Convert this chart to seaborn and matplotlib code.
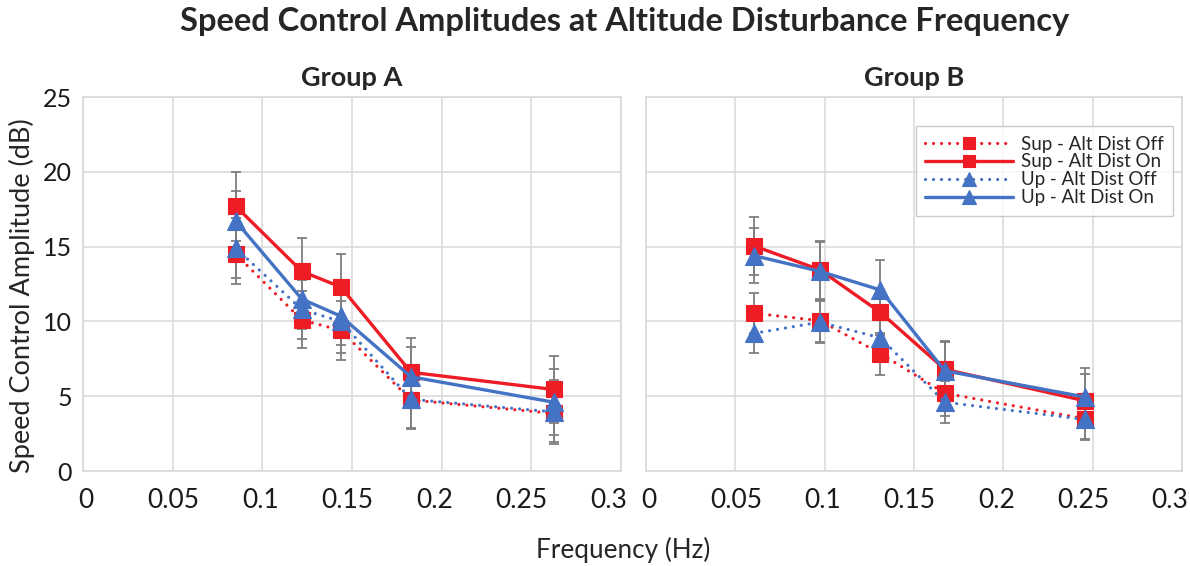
import matplotlib
matplotlib.use("Agg")
import matplotlib.pyplot as plt
import matplotlib.transforms as mtransforms
import seaborn as sns
import numpy as np

# ---------------- data ----------------
freq_a = [0.0852, 0.122, 0.1438, 0.1829, 0.2625]
freq_b = [0.0603, 0.0973, 0.1312, 0.1672, 0.2455]

series_names = ["Sup - Alt Dist Off", "Sup - Alt Dist On", "Up - Alt Dist Off", "Up - Alt Dist On"]

# Group A values
a_sup_off = [14.5, 10.1, 9.4, 4.75, 3.85]
a_sup_on = [17.7, 13.35, 12.3, 6.6, 5.45]
a_up_off = [14.9, 10.8, 10.0, 4.8, 3.95]
a_up_on = [16.7, 11.5, 10.35, 6.3, 4.6]
# Group A error (+/-)
a_sup_off_err = [2.0, 1.9, 1.95, 1.9, 1.9]
a_sup_on_err = [2.3, 2.2, 2.2, 2.3, 2.25]
a_up_off_err = [2.0, 1.95, 2.1, 2.0, 2.15]
a_up_on_err = [2.0, 2.0, 1.9, 2.0, 2.2]

# Group B values
b_sup_off = [10.55, 10.05, 7.85, 5.2, 3.5]
b_sup_on = [15.05, 13.45, 10.6, 6.8, 4.7]
b_up_off = [9.2, 9.95, 8.9, 4.6, 3.45]
b_up_on = [14.4, 13.35, 12.1, 6.7, 4.95]
# Group B error (+/-)
b_sup_off_err = [1.35, 1.4, 1.4, 1.5, 1.4]
b_sup_on_err = [1.95, 1.95, 1.5, 1.9, 1.8]
b_up_off_err = [1.3, 1.4, 1.5, 1.4, 1.3]
b_up_on_err = [1.85, 1.95, 2.0, 1.9, 1.95]

x_ticks = [0, 0.05, 0.1, 0.15, 0.2, 0.25, 0.3]
x_tick_labels = ["0", "0.05", "0.1", "0.15", "0.2", "0.25", "0.3"]
y_ticks = [0, 5, 10, 15, 20, 25]
y_tick_labels = ["0", "5", "10", "15", "20", "25"]

title = "Speed Control Amplitudes at Altitude Disturbance Frequency"
panel_titles = ["Group A", "Group B"]
x_label = "Frequency (Hz)"
y_label = "Speed Control Amplitude (dB)"

# ---------------- style ----------------
sns.set_theme(style="white")
plt.rcParams["font.family"] = ["Lato", "DejaVu Sans"]

RED = "#ee1c25"
BLUE = "#4472c4"
GRID = "#d9d9d9"
ERR = "#7f7f7f"

styles = [
    dict(color=RED, marker="s", dotted=True),
    dict(color=RED, marker="s", dotted=False),
    dict(color=BLUE, marker="^", dotted=True),
    dict(color=BLUE, marker="^", dotted=False),
]

fig = plt.figure(figsize=(11.9, 5.66), dpi=100)
ax_a = fig.add_axes([0.0697, 0.1678, 0.4521, 0.6608])
ax_b = fig.add_axes([0.5429, 0.1678, 0.4504, 0.6608])

groups = [
    (ax_a, freq_a, [a_sup_off, a_sup_on, a_up_off, a_up_on],
     [a_sup_off_err, a_sup_on_err, a_up_off_err, a_up_on_err]),
    (ax_b, freq_b, [b_sup_off, b_sup_on, b_up_off, b_up_on],
     [b_sup_off_err, b_sup_on_err, b_up_off_err, b_up_on_err]),
]

for gi, (ax, fr, vals, errs) in enumerate(groups):
    # error bars (behind markers)
    for v, e in zip(vals, errs):
        ax.errorbar(fr, v, yerr=e, fmt="none", ecolor=ERR, elinewidth=1.3,
                    capsize=3.5, capthick=1.3, zorder=2)
    for k, (v, st) in enumerate(zip(vals, styles)):
        if st["dotted"]:
            ls = (0, (0.01, 2.5))
            lw = 2.3
        else:
            ls = "-"
            lw = 2.4
        sns.lineplot(x=fr, y=v, ax=ax, color=st["color"], marker=st["marker"],
                     markersize=11.5 if st["marker"] == "s" else 12.5,
                     markeredgecolor=st["color"], markeredgewidth=0.8,
                     linestyle=ls, linewidth=lw, dash_capstyle="round",
                     label=series_names[k], zorder=3 + k, legend=(gi == 1))

    ax.set_xlim(0, 0.3)
    ax.set_ylim(0, 25)
    ax.set_xticks(x_ticks)
    ax.set_xticklabels(x_tick_labels, fontsize=19, color="#1a1a1a")
    ax.set_yticks(y_ticks)
    if gi == 0:
        ax.set_yticklabels(y_tick_labels, fontsize=18, color="#1a1a1a")
    else:
        ax.set_yticklabels([])
    ax.tick_params(axis="x", length=0, pad=12)
    ax.tick_params(axis="y", length=0, pad=8)
    # Excel-like slight compression of the value labels (applied after tick_params)
    for val, lab in zip(x_ticks, ax.get_xticklabels()):
        dx_px = 3 - 15 * (val / 0.3)
        off = mtransforms.ScaledTranslation(dx_px / 100.0, 0, fig.dpi_scale_trans)
        lab.set_transform(lab.get_transform() + off)
    ax.grid(True, color=GRID, linewidth=1.1)
    ax.set_axisbelow(True)
    for sp in ax.spines.values():
        sp.set_color(GRID)
        sp.set_linewidth(1.2)
    ax.set_xlabel("")
    ax.set_ylabel("")
    ax.set_title(panel_titles[gi], fontsize=19.5, fontweight="bold", pad=8)

leg = ax_b.legend(loc="upper right", bbox_to_anchor=(0.983, 0.922), fontsize=13.5,
                  handlelength=4.7, labelspacing=0.05, borderpad=0.5,
                  handletextpad=0.4, frameon=True, fancybox=False, borderaxespad=0,
                  markerscale=0.75)
leg.get_frame().set_edgecolor("#bfbfbf")
leg.get_frame().set_linewidth(1.0)

fig.suptitle(title, x=0.525, y=0.988, fontsize=23.5, fontweight="bold")
fig.text(0.524, 0.028, x_label, ha="center", va="center", fontsize=18.8)
fig.text(0.0185, 0.477, y_label, ha="center", va="center", rotation=90, fontsize=19.5)

fig.savefig("out.png", dpi=100)
